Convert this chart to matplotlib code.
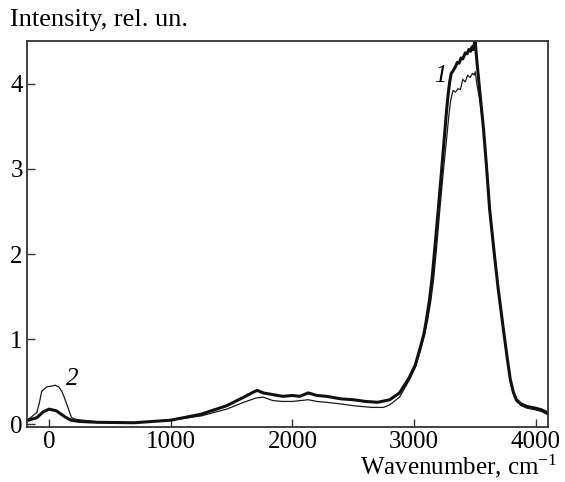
import matplotlib
matplotlib.use("Agg")
import matplotlib.pyplot as plt

plt.rcParams['font.family'] = ['Liberation Serif', 'DejaVu Serif']
plt.rcParams['mathtext.fontset'] = 'custom'
plt.rcParams['mathtext.rm'] = 'Liberation Serif'
plt.rcParams['mathtext.it'] = 'Liberation Serif:italic'

# Curve 1 (thick)
x1 = [-170, -100, -50, 0, 30, 60, 100, 130, 180, 250, 400, 700, 1000, 1250, 1460,
      1600, 1680, 1710, 1760, 1840, 1920, 2000, 2060, 2130, 2200, 2280, 2400, 2500,
      2600, 2700, 2800, 2880, 2960, 3010, 3050, 3080, 3100, 3125, 3150, 3175, 3200,
      3225, 3250, 3265, 3280, 3292, 3305, 3320,
      3340, 3355, 3370, 3385, 3400, 3420, 3435, 3450, 3465, 3475, 3485, 3495, 3502,
      3512, 3540, 3570, 3595, 3620, 3655, 3690, 3735, 3765, 3790, 3815, 3840, 3880,
      3930, 4000, 4050, 4090]
y1 = [0.05, 0.08, 0.145, 0.18, 0.17, 0.16, 0.12, 0.09, 0.05, 0.035, 0.025, 0.02, 0.05,
      0.12, 0.22, 0.32, 0.38, 0.40, 0.37, 0.35, 0.33, 0.34, 0.33, 0.37, 0.34, 0.33,
      0.30, 0.29, 0.27, 0.26, 0.29, 0.37, 0.55, 0.70, 0.90, 1.06, 1.22, 1.45, 1.75,
      2.15, 2.55, 2.97, 3.40, 3.66, 3.88, 4.02, 4.12, 4.15,
      4.20, 4.25, 4.24, 4.30, 4.29, 4.36, 4.35, 4.40, 4.38, 4.43, 4.40, 4.47, 4.49,
      4.32, 3.90, 3.47, 3.02, 2.53, 2.05, 1.60, 1.10, 0.78, 0.53, 0.38, 0.29, 0.24,
      0.21, 0.19, 0.17, 0.14]

# Curve 2 (thin)
x2 = [-170, -100, -80, -60, -20, 20, 50, 80, 105, 130, 150, 185, 220, 280, 400, 700,
      1000, 1250, 1460, 1600, 1700, 1760, 1840, 1920, 2000, 2130, 2200, 2280, 2400,
      2500, 2650, 2750, 2800, 2880, 2960, 3010, 3050, 3085, 3110, 3135, 3160, 3185,
      3210, 3240, 3270, 3285, 3300, 3320,
      3340, 3360, 3380, 3400, 3420, 3440, 3460, 3480, 3495, 3502, 3515, 3540, 3575,
      3600, 3625, 3660, 3695, 3735, 3765, 3790, 3815, 3840, 3880, 3930, 4000, 4050,
      4090]
y2 = [0.06, 0.14, 0.25, 0.39, 0.44, 0.45, 0.46, 0.44, 0.39, 0.30, 0.22, 0.08, 0.06,
      0.05, 0.03, 0.02, 0.05, 0.10, 0.18, 0.26, 0.31, 0.32, 0.28, 0.27, 0.27, 0.29,
      0.27, 0.26, 0.24, 0.22, 0.20, 0.20, 0.23, 0.32, 0.52, 0.67, 0.86, 1.05, 1.22,
      1.43, 1.70, 2.08, 2.50, 2.97, 3.40, 3.62, 3.80, 3.92,
      3.90, 3.94, 3.93, 4.05, 4.02, 4.10, 4.07, 4.12, 4.10, 4.14, 4.00, 3.80, 3.42,
      2.98, 2.50, 2.02, 1.56, 1.08, 0.76, 0.50, 0.36, 0.27, 0.22, 0.19, 0.17, 0.15,
      0.12]

xticks = [0, 1000, 2000, 3000, 4000]
yticks = [0, 1, 2, 3, 4]

fig = plt.figure(figsize=(5.65, 4.82), dpi=100)
ax = fig.add_axes([27/565, 1 - 427/482, (548 - 27)/565, (427 - 41)/482])

ax.plot(x2, y2, color='#1a1a1a', lw=0.9)
ax.plot(x1, y1, color='#111111', lw=2.2)

ax.set_xlim(-181, 4100)
ax.set_ylim(-0.03, 4.5)
ax.set_xticks(xticks)
ax.set_xticklabels([str(t) for t in xticks])
ax.set_yticks(yticks)
ax.set_yticklabels([str(t) for t in yticks])
ax.tick_params(direction='in', length=6, width=1.0, labelsize=18, colors='#333333',
               labelcolor='black', pad=3)
for s in ax.spines.values():
    s.set_linewidth(1.3)
    s.set_color('#333333')

ax.text(3213, 4.09, '1', fontsize=18, style='italic', ha='center', va='center')
ax.text(189, 0.53, '2', fontsize=18, style='italic', ha='center', va='center')

fig.text(10/565, 1 - 20/482, 'Intensity, rel. un.', fontsize=19, ha='left', va='center')
fig.text(558/565, 1 - 466/482, r'Wavenumber, cm$^{-1}$', fontsize=18, ha='right', va='center')

fig.savefig('out.png', dpi=100)
